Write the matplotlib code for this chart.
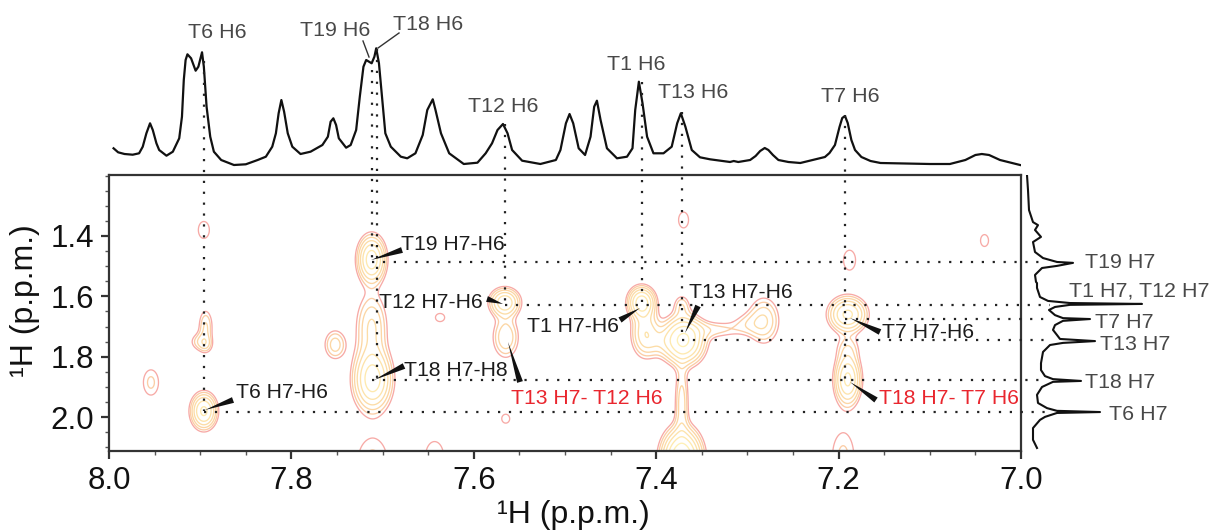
import numpy as np
import matplotlib
matplotlib.use('Agg')
import matplotlib.pyplot as plt
from matplotlib.patches import Polygon
from matplotlib.ticker import MultipleLocator

plt.rcParams['font.family'] = ['Liberation Sans', 'DejaVu Sans']

# 1D trace above the map (ppm, intensity)
top_ppm = [7.995, 7.990, 7.983, 7.974, 7.967, 7.963, 7.959, 7.955, 7.952, 7.948, 7.945, 7.937, 7.930, 7.923,
           7.920, 7.918, 7.916, 7.914, 7.910, 7.905, 7.902, 7.898, 7.896, 7.893, 7.889, 7.885, 7.877, 7.863,
           7.850, 7.837, 7.828, 7.821, 7.817, 7.814, 7.811, 7.808, 7.804, 7.799, 7.790, 7.779, 7.766, 7.760,
           7.757, 7.754, 7.751, 7.748, 7.740, 7.735, 7.729, 7.725, 7.721, 7.718, 7.712, 7.709, 7.707, 7.704,
           7.700, 7.697, 7.691, 7.680, 7.673, 7.664, 7.656, 7.651, 7.645, 7.642, 7.636, 7.627, 7.611, 7.596,
           7.587, 7.580, 7.574, 7.568, 7.563, 7.558, 7.547, 7.527, 7.510, 7.505, 7.499, 7.495, 7.491, 7.485,
           7.478, 7.472, 7.468, 7.465, 7.461, 7.454, 7.443, 7.432, 7.426, 7.423, 7.419, 7.415, 7.410, 7.403,
           7.392, 7.383, 7.377, 7.373, 7.368, 7.361, 7.352, 7.341, 7.319, 7.315, 7.310, 7.297, 7.291, 7.286,
           7.281, 7.277, 7.272, 7.266, 7.255, 7.242, 7.215, 7.210, 7.204, 7.199, 7.196, 7.193, 7.190, 7.186,
           7.182, 7.175, 7.165, 7.154, 7.100, 7.078, 7.061, 7.050, 7.043, 7.035, 7.023, 7.010, 7.001]
top_int = [16.7, 12.7, 11, 10.3, 11.7, 18.3, 31.7, 41.7, 35, 21.7, 15, 9.3, 13.3, 26.7,
           48.3, 85, 105, 110.7, 106.7, 94.3, 98.3, 112.7, 98.3, 58.3, 28.3, 13.3, 5, 0,
           0.7, 5, 8.3, 18.3, 31.7, 51.7, 65, 53.3, 31.7, 18.3, 11, 13.3, 20, 28.3,
           43.3, 46.7, 40, 26.7, 17.3, 20, 35, 68.3, 98.3, 105, 101.7, 108.3, 116.7, 101.7,
           61.7, 31.7, 18.3, 8.3, 6.7, 11.7, 30, 55, 65.7, 55, 31.7, 11.7, 1, 2.3,
           11.7, 21.7, 35, 41, 31.7, 15, 4.3, 1, 5, 15, 41.7, 51, 41.7, 16.7,
           10, 28.3, 58.3, 64.3, 45, 16.7, 6.7, 8.3, 16.7, 55, 83.3, 61.7, 28.3, 11.7,
           11.7, 18.3, 41.7, 51.7, 38.3, 15, 7.7, 5.7, 3, 4, 3, 5, 9, 14,
           17, 15, 10, 5, 3, 2, 8, 12, 20, 38, 47, 49, 42, 25,
           15, 8, 4, 2, 1, 1, 5, 10, 11, 10, 5, 2, 0]

# 1D trace right of the map (intensity, ppm)
side_int = [3, 4, 5, 9, 14, 11, 17, 9, 11, 19, 33, 49, 33, 18, 11, 12, 13, 13, 16, 24, 46, 118,
            46, 31, 25, 31, 39, 66, 39, 31, 29, 33, 36, 71, 39, 26, 19, 17, 17, 21, 29, 57, 29, 18, 13, 14, 23,
            33, 76, 33, 21, 16, 9, 9, 13]
side_ppm = [1.198, 1.248, 1.314, 1.354, 1.364, 1.380, 1.403, 1.420, 1.453, 1.473, 1.486, 1.489, 1.499, 1.506,
            1.529, 1.552, 1.556, 1.572, 1.602, 1.615, 1.622, 1.625, 1.628, 1.635, 1.645, 1.662, 1.672, 1.675,
            1.681, 1.695, 1.711, 1.728, 1.741, 1.748, 1.754, 1.761, 1.784, 1.821, 1.844, 1.864, 1.874, 1.880,
            1.883, 1.900, 1.926, 1.953, 1.970, 1.979, 1.983, 1.986, 1.999, 2.009, 2.036, 2.075, 2.102]

# cross peaks of the 2D map
peak_x = [7.896, 7.894, 7.902, 7.894, 7.954, 7.752, 7.712, 7.711, 7.712, 7.637, 7.566, 7.565, 7.565, 7.711, 7.643,
          7.416, 7.412, 7.395, 7.37, 7.372, 7.335, 7.30, 7.282, 7.372, 7.372, 7.37,
          7.19, 7.19, 7.19, 7.195, 7.188, 7.04, 7.896]
peak_y = [1.98, 1.70, 1.75, 1.76, 1.885, 1.76, 1.478, 1.875, 1.70, 1.67, 1.62, 1.735, 2.005, 2.14, 2.13,
          1.62, 1.72, 1.75, 1.745, 1.63, 1.71, 1.69, 1.68, 2.14, 1.95, 1.347,
          1.66, 1.875, 1.77, 2.13, 1.48, 1.415, 1.38]
peak_sx = [.0083, .0055, .007, .0055, .0085, .008, .0088, .012, .0108, .0075, .0098, .0093, .0065, .016, .012,
           .0085, .0095, .012, .013, .006, .02, .012, .011, .012, .005, .0075,
           .012, .0084, .009, .012, .008, .006, .009]
peak_sy = [.035, .04, .02, .02, .043, .033, .045, .06, .07, .02, .028, .045, .022, .07, .06,
           .03, .05, .03, .045, .025, .02, .025, .05, .055, .08, .036,
           .034, .05, .03, .08, .04, .027, .042]
peak_amp = [7, 2.2, 1.5, 1.5, 1.6, 2.6, 8, 8, 3.2, 1.25, 6, 3, 1.25, 1.6, 1.4,
            8, 4, 1.5, 10, 1.8, 1.6, 1.3, 3, 14, 2.6, 1.3,
            7, 7, 1.5, 1.6, 1.4, 1.3, 1.25]

# assignments: (H6 ppm, top of dotted line in ppm, end of line in ppm)
h6_ppm = [7.896, 7.712, 7.7065, 7.566, 7.416, 7.372, 7.193]
h6_top = [0.82, 0.85, 0.78, 1.03, 0.89, 0.99, 1.0]
h6_end = [1.98, 1.487, 1.877, 1.63, 1.63, 1.745, 1.877]
# horizontal guides: H7 ppm, where they start and stop in the other dimension
h7_ppm = [1.487, 1.63, 1.675, 1.745, 1.877, 1.982]
h7_start = [7.712, 7.566, 7.193, 7.372, 7.712, 7.896]
h7_stop = [6.979, 6.968, 6.972, 6.97, 6.974, 6.974]

ppm_ticks = [8.0, 7.8, 7.6, 7.4, 7.2, 7.0]
h_ticks = [1.4, 1.6, 1.8, 2.0]

W, H = 1210, 530
fig = plt.figure(figsize=(W / 100, H / 100), dpi=100)


def box(x0, y0, x1, y1):
    return [x0 / W, 1 - y1 / H, (x1 - x0) / W, (y1 - y0) / H]


ax = fig.add_axes(box(109, 175, 1021, 451))
ax_top = fig.add_axes(box(109, 10, 1021, 175))
ax_side = fig.add_axes(box(1024, 175, 1210, 451))
over = fig.add_axes([0, 0, 1, 1])
over.set_xlim(0, W)
over.set_ylim(H, 0)
over.axis('off')

xg = np.linspace(7.0, 8.0, 1400)
yg = np.linspace(1.198, 2.112, 700)
XX, YY = np.meshgrid(xg, yg)
ZZ = np.zeros_like(XX)
for px, py, sx, sy, a in zip(peak_x, peak_y, peak_sx, peak_sy, peak_amp):
    ZZ += a * np.exp(-(XX - px) ** 2 / (2 * sx ** 2) - (YY - py) ** 2 / (2 * sy ** 2))

levels = 1.0 * 1.45 ** np.arange(0, 7)
cols = ['#f7aaa6', '#fbcda6', '#fcd6a4', '#fcdca6', '#fde3aa', '#fee9ae', '#fef0b6']
ax.contour(XX, YY, ZZ, levels=levels, colors=cols, linewidths=0.95)

ax.set_xlim(8.0, 7.0)
ax.set_ylim(2.112, 1.198)
ax.set_xticks(ppm_ticks)
ax.set_xticklabels(['%.1f' % t for t in ppm_ticks])
ax.set_yticks(h_ticks)
ax.set_yticklabels(['%.1f' % t for t in h_ticks])
ax.xaxis.set_minor_locator(MultipleLocator(0.05))
ax.yaxis.set_minor_locator(MultipleLocator(0.05))
ax.tick_params(which='major', labelsize=22.5, length=6, width=1.6, color='#333333', labelcolor='#111111', pad=5)
ax.tick_params(which='minor', length=3, width=1, color='#555555')
for s in ax.spines.values():
    s.set_linewidth(1.6)
    s.set_color('#333333')

# dotted guides run outside the map, so no clipping
for x, y0, y1 in zip(h6_ppm, h6_top, h6_end):
    ax.plot([x, x], [y0, y1], ls=(0, (1, 3.9)), color='#222222', lw=1.6, clip_on=False, zorder=5)
for y, x0, x1 in zip(h7_ppm, h7_start, h7_stop):
    ax.plot([x0, x1], [y, y], ls=(0, (1, 3.9)), color='#222222', lw=1.6, clip_on=False, zorder=5)

ax_top.plot(top_ppm, top_int, color='#111111', lw=1.6)
ax_top.set_xlim(8.0, 7.0)
ax_top.set_ylim(-10, 155)
ax_top.axis('off')
ax_top.patch.set_alpha(0)

ax_side.plot(side_int, side_ppm, color='#111111', lw=1.5)
ax_side.set_xlim(0, 186)
ax_side.set_ylim(2.112, 1.198)
ax_side.axis('off')
ax_side.patch.set_alpha(0)

ax.set_zorder(2)
ax_top.set_zorder(1)
ax_side.set_zorder(1)
over.set_zorder(3)

GREY = '#484848'
BLACK = '#1c1c1c'
RED = '#e9262e'
top_labels = [('T6 H6', 188, 33), ('T19 H6', 300, 30), ('T18 H6', 393, 24), ('T1 H6', 607, 65),
              ('T13 H6', 658, 93), ('T12 H6', 468, 107), ('T7 H6', 821, 97)]
side_labels = [('T19 H7', 1085, 263), ('T1 H7, T12 H7', 1069, 291), ('T7 H7', 1095, 322),
               ('T13 H7', 1100, 345), ('T18 H7', 1085, 383), ('T6 H7', 1109, 414)]
map_labels = [('T19 H7-H6', 401, 245, BLACK), ('T12 H7-H6', 379, 302, BLACK), ('T1 H7-H6', 527, 326, BLACK),
              ('T13 H7-H6', 689, 293, BLACK), ('T7 H7-H6', 882, 333, BLACK), ('T18 H7-H8', 404, 370, BLACK),
              ('T6 H7-H6', 236, 393, BLACK), ('T13 H7- T12 H6', 511, 399, RED), ('T18 H7- T7 H6', 879, 399, RED)]
for txt, x, y in top_labels + side_labels:
    over.text(x, y, txt, fontsize=15.4, color=GREY, ha='left', va='center')
for txt, x, y, c in map_labels:
    over.text(x, y, txt, fontsize=15.2, color=c, ha='left', va='center')

# black wedges from label to peak: tip, base centre
wedges = [((371, 260), (402, 250)), ((503, 304), (487, 299)), ((640, 308), (620, 320)),
          ((685, 333), (698, 306)), ((850, 318), (880, 332)), ((374, 380), (404, 366)),
          ((850, 382), (876, 400)), ((508, 342), (520, 382)), ((205, 410), (233, 400))]
for tip, base in wedges:
    t, b = np.array(tip, float), np.array(base, float)
    d = (b - t) / np.hypot(*(b - t))
    n = np.array([-d[1], d[0]]) * 3
    over.add_patch(Polygon([t, b + n, b - n], closed=True, color='#111111', lw=0))

# thin leaders at the crowded top labels
over.plot([363, 369], [41, 57], color='#333333', lw=1)
over.plot([378, 399], [48, 33], color='#333333', lw=1)

over.text(25, 301, '\u00b9H (p.p.m.)', rotation=90, fontsize=23, color='#111111', ha='center', va='center')
over.text(573, 515, '\u00b9H (p.p.m.)', fontsize=23, color='#111111', ha='center', va='center')

fig.savefig('out.png', dpi=100)
